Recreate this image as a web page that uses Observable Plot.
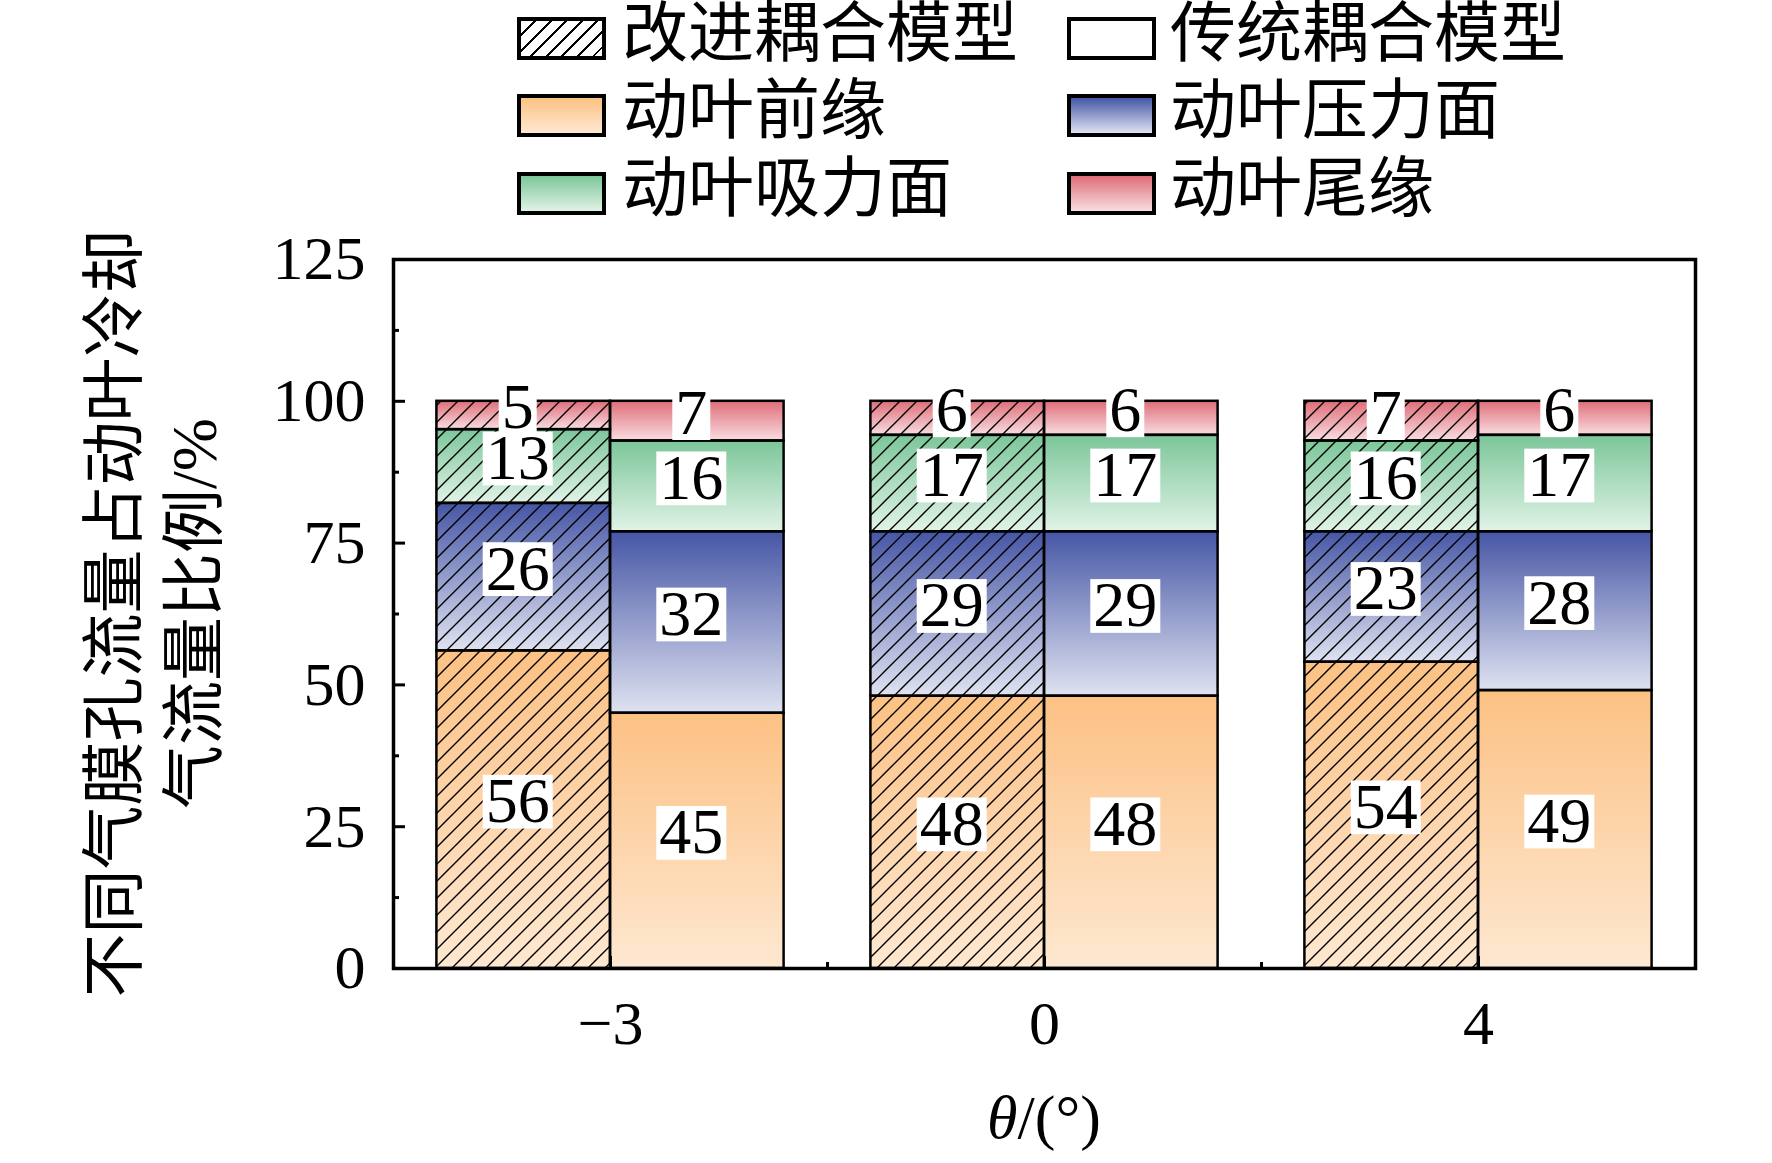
<!DOCTYPE html>
<html>
<head>
<meta charset="utf-8">
<script src="https://cdn.jsdelivr.net/npm/d3@7"></script>
<script src="https://cdn.jsdelivr.net/npm/@observablehq/plot@0.6"></script>
<style>
  html, body { margin: 0; padding: 0; background: #fff; }
  body { width: 1772px; height: 1163px; overflow: hidden; font-family: "Liberation Serif", "Noto Sans CJK SC", serif; }
  #legend { position: relative; width: 1772px; height: 230px; }
  .sw { position: absolute; width: 89px; height: 43px; box-sizing: border-box; border: 4px solid #000; }
  .lt { position: absolute; font-size: 66px; line-height: 42px; height: 42px; white-space: nowrap; color: #000; }
  #chart svg { display: block; overflow: visible; }
</style>
</head>
<body>
<div id="legend"></div>
<div id="chart"></div>
<script>
// ---------- data ----------
const thetaLabels = ["\u22123", "0", "4"];
const models = ["改进耦合模型", "传统耦合模型"];
const regions = ["动叶前缘", "动叶压力面", "动叶吸力面", "动叶尾缘"];

const improvedLeading   = [56, 48, 54];
const improvedPressure  = [26, 29, 23];
const improvedSuction   = [13, 17, 16];
const improvedTrailing  = [5, 6, 7];

const traditionalLeading  = [45, 48, 49];
const traditionalPressure = [32, 29, 28];
const traditionalSuction  = [16, 17, 17];
const traditionalTrailing = [7, 6, 6];

const yTicks = [0, 25, 50, 75, 100, 125];
const yMinorTicks = [12.5, 37.5, 62.5, 87.5, 112.5];
const yTitleLines = ["不同气膜孔流量占动叶冷却", "气流量比例/%"];
const xTitleItalic = "θ";
const xTitleRest = "/(°)";

// ---------- styles ----------
const regionGradients = [
  ["#fcc184", "#fee8d1"],
  ["#4656a5", "#dfe2f1"],
  ["#7cc699", "#e0f3e7"],
  ["#df6d78", "#f8dde1"]
];
const serif = '"Liberation Serif", "Noto Sans CJK SC", serif';

// ---------- table ----------
const series = [
  [improvedLeading, improvedPressure, improvedSuction, improvedTrailing],
  [traditionalLeading, traditionalPressure, traditionalSuction, traditionalTrailing]
];
const rows = [];
thetaLabels.forEach((t, gi) => {
  models.forEach((m, mj) => {
    let acc = 0;
    regions.forEach((r, rk) => {
      const v = series[mj][rk][gi];
      rows.push({theta: t, gi, model: m, mj, region: r, rk, value: v, y1: acc, y2: acc + v});
      acc += v;
    });
  });
});
const BAR = 0.4;
const X1 = d => d.gi + (d.mj - 1) * BAR;
const X2 = d => d.gi + d.mj * BAR;

// ---------- legend (HTML) ----------
const legend = document.getElementById("legend");
const legendItems = [
  {label: models[0], bg: "#fff repeating-linear-gradient(135deg, transparent 0 9px, #000 9px 11px)"},
  {label: models[1], bg: "#fff"},
  ...regions.map((r, k) => ({label: r, bg: `linear-gradient(to bottom, ${regionGradients[k][0]}, ${regionGradients[k][1]})`}))
];
const colSw = [517, 1067], colTx = [622, 1170], rowTop = [17, 94, 172];
legendItems.forEach((it, i) => {
  const c = i % 2, r = Math.floor(i / 2);
  const sw = document.createElement("div");
  sw.className = "sw";
  sw.style.left = colSw[c] + "px";
  sw.style.top = rowTop[r] + "px";
  sw.style.background = it.bg;
  legend.appendChild(sw);
  const tx = document.createElement("div");
  tx.className = "lt";
  tx.style.left = colTx[c] + "px";
  tx.style.top = (rowTop[r] - 4) + "px";
  tx.textContent = it.label;
  legend.appendChild(tx);
});

// ---------- custom marks ----------
function defsMark() {
  const defs = d3.create("svg:defs");
  regionGradients.forEach((g, k) => {
    const lg = defs.append("linearGradient").attr("id", "grad" + k)
      .attr("x1", 0).attr("y1", 0).attr("x2", 0).attr("y2", 1);
    lg.append("stop").attr("offset", "0%").attr("stop-color", g[0]);
    lg.append("stop").attr("offset", "100%").attr("stop-color", g[1]);
  });
  const p = defs.append("pattern").attr("id", "hatch")
    .attr("patternUnits", "userSpaceOnUse").attr("width", 17).attr("height", 17);
  p.append("path").attr("d", "M-3,3 L3,-3 M0,17 L17,0 M14,20 L20,14")
    .attr("stroke", "#000").attr("stroke-width", 1.4).attr("fill", "none");
  return defs.node();
}

function yTitleMark(index, scales, values, dims) {
  const cy = (dims.marginTop + dims.height - dims.marginBottom) / 2;
  const g = d3.create("svg:g").attr("font-family", serif).attr("font-size", 64)
    .attr("text-anchor", "middle").attr("fill", "#000");
  yTitleLines.forEach((line, i) => {
    g.append("text")
      .attr("transform", `translate(${112 + i * 80},${cy}) rotate(-90)`)
      .attr("dy", "0.38em")
      .text(line);
  });
  return g.node();
}

function xTitleMark(index, scales, values, dims) {
  const cx = (dims.marginLeft + dims.width - dims.marginRight) / 2;
  const y = dims.height - dims.marginBottom + 170;
  const t = d3.create("svg:text").attr("font-family", serif).attr("font-size", 62)
    .attr("text-anchor", "middle").attr("fill", "#000")
    .attr("x", cx).attr("y", y);
  t.append("tspan").attr("font-style", "italic").text(xTitleItalic);
  t.append("tspan").text(xTitleRest);
  return t.node();
}

// ---------- plot ----------
const FS = 64;
const plot = Plot.plot({
  width: 1772,
  height: 933,
  marginLeft: 393,
  marginRight: 77,
  marginTop: 29,
  marginBottom: 195,
  style: {fontFamily: serif, fontSize: "62px", background: "white", overflow: "visible", color: "#000"},
  x: {domain: [-0.5, 2.5]},
  y: {domain: [0, 125]},
  marks: [
    defsMark,
    ...regions.map((r, k) => Plot.rect(rows.filter(d => d.rk === k), {
      x1: X1, x2: X2, y1: "y1", y2: "y2", fill: `url(#grad${k})`
    })),
    Plot.rect(rows.filter(d => d.mj === 0), {x1: X1, x2: X2, y1: "y1", y2: "y2", fill: "url(#hatch)"}),
    Plot.rect(rows, {x1: X1, x2: X2, y1: "y1", y2: "y2", fill: "none", stroke: "#000", strokeWidth: 2.5}),
    Plot.text(rows, {
      x: d => d.gi + (d.mj - 0.5) * BAR,
      y: d => (d.y1 + d.y2) / 2,
      text: d => String(d.value),
      dx: -6,
      dy: -8,
      fontSize: FS, fill: "#000", className: "seg-label"
    }),
    Plot.axisY({ticks: yTicks, tickSize: 0, tickPadding: 28, label: null, fontSize: 62}),
    Plot.axisY({ticks: yTicks, tickSize: -12, fill: "none", strokeWidth: 3, label: null}),
    Plot.axisY({ticks: yMinorTicks, tickSize: -6, fill: "none", strokeWidth: 3, label: null}),
    Plot.axisX({ticks: [0, 1, 2], tickFormat: i => thetaLabels[i], tickSize: 0, tickPadding: 31, label: null, fontSize: 62}),
    Plot.axisX({ticks: [0, 1, 2], tickSize: -12, fill: "none", strokeWidth: 3, label: null}),
    Plot.axisX({ticks: [0.5, 1.5], tickSize: -6, fill: "none", strokeWidth: 3, label: null}),
    yTitleMark,
    xTitleMark,
    Plot.frame({stroke: "#000", strokeWidth: 3.5})
  ]
});
document.getElementById("chart").appendChild(plot);

// white boxes behind segment labels (sized from each label's own extent)
plot.querySelectorAll("g.seg-label text").forEach(t => {
  const b = t.getBBox();
  const r = document.createElementNS("http://www.w3.org/2000/svg", "rect");
  const tr = t.getAttribute("transform");
  if (tr) r.setAttribute("transform", tr);
  const cy = b.y + b.height / 2 + 1;
  const h = 0.84 * FS;
  r.setAttribute("x", b.x - 3);
  r.setAttribute("width", b.width + 6);
  r.setAttribute("y", cy - h / 2);
  r.setAttribute("height", h);
  r.setAttribute("fill", "#fff");
  t.parentNode.insertBefore(r, t);
});
</script>
</body>
</html>
